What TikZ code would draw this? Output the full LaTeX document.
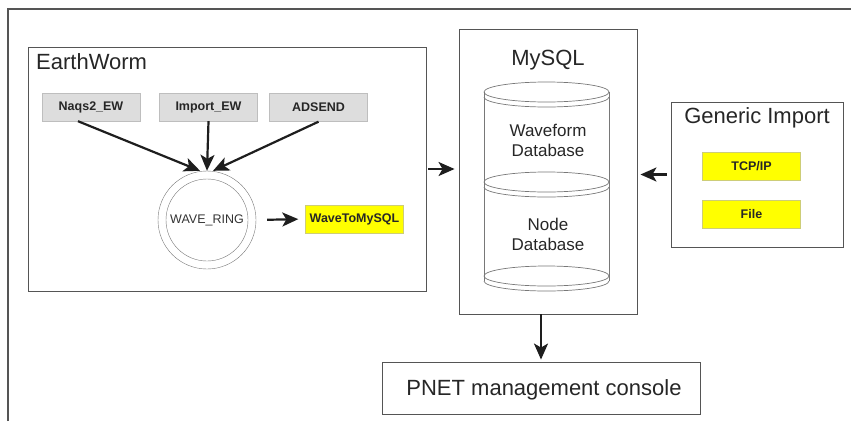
\documentclass[tikz,border=0pt]{standalone}
\usepackage{fontspec}
\setmainfont{Liberation Sans}
\usepackage{xcolor}
\definecolor{pnframe}{RGB}{85,85,85}
\definecolor{pnink}{RGB}{30,30,30}
\definecolor{pngray}{RGB}{221,221,221}
\definecolor{pngrayline}{RGB}{190,190,190}
\definecolor{pnyellow}{RGB}{255,255,0}
\definecolor{pnyellowline}{RGB}{205,205,120}
\definecolor{pndrum}{RGB}{120,120,120}
\usepackage{tikz}
\usetikzlibrary{arrows.meta, positioning, calc}

\begin{document}
\begin{tikzpicture}[x=1pt, y=-1pt,
    groupbox/.style={draw=pnframe, line width=0.9pt, inner sep=0pt},
    biglabel/.style={font=\fontsize{22}{26}\selectfont, text=black!85, inner sep=0pt},
    module/.style={draw=pngrayline, fill=pngray, minimum width=98pt, minimum height=28pt,
      inner sep=0pt, font=\fontsize{12.5}{14}\selectfont\bfseries, text=black!85},
    yellowbox/.style={module, draw=pnyellowline, fill=pnyellow},
    flow/.style={draw=pnink, line width=2.2pt, -{Stealth[length=16pt, width=14pt, inset=4pt]}}]
\useasboundingbox (0,0) rectangle (851,421);

% Outer frame
\draw[pnframe, line width=1.2pt] (8,421) -- (8,9) -- (851,9);

% Group boxes
\node[groupbox, minimum width=398pt, minimum height=244pt] (ew) at (227,169) {};
\node[biglabel, anchor=base west] (ewlabel) at (36,69) {EarthWorm};

\node[groupbox, minimum width=178pt, minimum height=285pt] (mysql) at (548,171.5) {};
\node[biglabel, anchor=base] (mysqllabel) at (548,65) {MySQL};

\node[groupbox, minimum width=172pt, minimum height=145pt] (gen) at (757,174.5) {};
\node[biglabel, anchor=base] (genlabel) at (757,123) {Generic Import};

\node[groupbox, minimum width=318pt, minimum height=52pt] (pnet) at (541,388) {};
\node[biglabel, anchor=base] (pnetlabel) at (544,395) {PNET management console};

% EarthWorm modules
\node[module] (naqs) at (91,107) {Naqs2\_EW};
\node[module] (import) at (208.5,107) {Import\_EW};
\node[module] (adsend) at (318.5,107.5) {ADSEND};
\node[yellowbox] (wave) at (354.5,219) {WaveToMySQL};

% Ring
\node[draw=pndrum, circle, minimum size=98pt, inner sep=0pt] (ring) at (207,220) {};
\node[draw=pndrum, circle, minimum size=82pt, inner sep=0pt,
      font=\fontsize{12.5}{15}\selectfont, text=black!80] (ringin) at (207,220) {WAVE\_RING};

% Generic import modules
\node[yellowbox] (tcp) at (751.5,166) {TCP/IP};
\node[yellowbox] (file) at (751.5,214) {File};

% Database drum
\foreach \yy in {92,182,276} {
  \draw[pndrum, line width=0.7pt] (546.5,\yy) ellipse [x radius=62.5, y radius=10];
  \draw[pndrum, line width=0.7pt] (484,\yy+5) arc [start angle=180, end angle=0, x radius=62.5, y radius=10];
}
\draw[pndrum, line width=0.7pt] (484,92) -- (484,281);
\draw[pndrum, line width=0.7pt] (609,92) -- (609,281);
\node[font=\fontsize{17}{20}\selectfont, align=center, text=black!85] (wfdb) at (548,140) {Waveform\\Database};
\node[font=\fontsize{17}{20}\selectfont, align=center, text=black!85] (nodedb) at (548,234) {Node\\Database};

% Connections
\draw[flow] ([xshift=-13pt]naqs.south) -- ([xshift=-7pt]ring.north);
\draw[flow] (import.south) -- (ring.north);
\draw[flow] (adsend.south) -- ([xshift=6pt]ring.north);
\draw[flow, shorten <=11pt, shorten >=7pt] (ring.east) -- (wave.west);
\draw[flow, shorten <=2pt, shorten >=4pt] (ew.east) -- (ew.east -| mysql.west);
\draw[flow, shorten <=4pt, shorten >=3pt] (gen.west) -- (gen.west -| mysql.east);
\draw[flow, shorten >=2pt] (pnet.north |- mysql.south) -- (pnet.north);

\end{tikzpicture}
\end{document}
